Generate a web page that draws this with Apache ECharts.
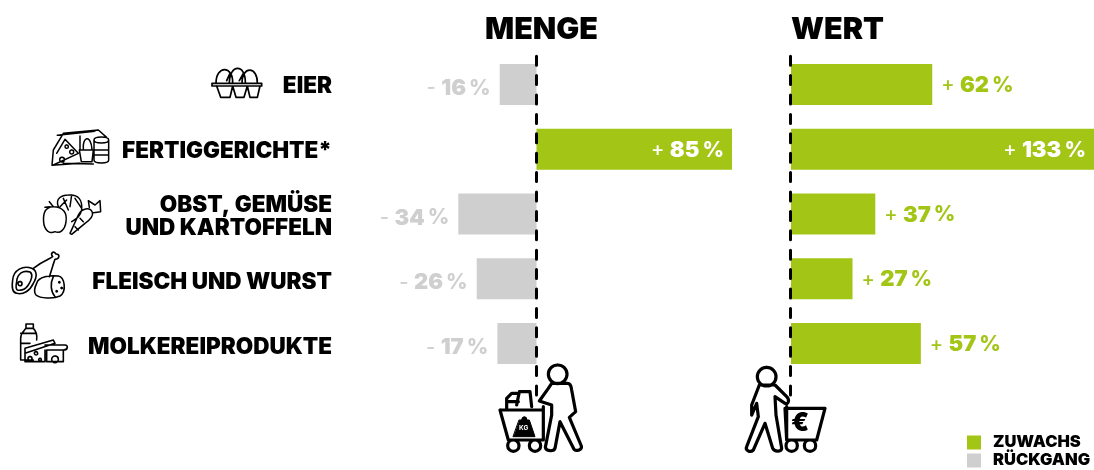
<!DOCTYPE html>
<html><head><meta charset="utf-8">
<style>html,body{margin:0;padding:0;background:#fff}#c{width:1094px;height:470px}</style>
<script src="https://cdn.jsdelivr.net/npm/echarts@6/dist/echarts.min.js"></script>
</head><body><div id="c"></div>
<script>
const categories = ['EIER','FERTIGGERICHTE*','OBST, GEMÜSE\nUND KARTOFFELN','FLEISCH UND WURST','MOLKEREIPRODUKTE'];
const mengeZuwachs = [null,85,null,null,null];
const mengeRueckgang = [-16,null,-34,-26,-17];
const wertZuwachs = [62,133,37,27,57];
const titles = ['MENGE','WERT'];
const legendNames = ['ZUWACHS','RÜCKGANG'];

const GREEN='#a2c516', GREY='#cfcfcf', FONT='Inter, "Open Sans", sans-serif';
const PX=2.3, Z1=536.5, Z2=791, TOP=52, BAND=64.8;

function rich(color){return {
  s:{color,fontFamily:FONT,fontSize:20,fontWeight:500},
  n:{color,fontFamily:FONT,fontSize:22,fontWeight:900},
  p:{color,fontFamily:FONT,fontSize:21,fontWeight:800}
};}
function fmt(p){const v=p.value; if(v==null) return '';
  return `{s|${v<0?'-':'+'} }{n|${Math.abs(v)}}{p|\u2009%}`;}
function lab(position,color,distance,dy){return {show:true,position,distance,offset:[0,dy],formatter:fmt,rich:rich(color)};}
function toData(arr,insideFrom){return arr.map(v=>{
  if(v==null) return {value:null};
  if(v>=insideFrom) return {value:v,label:lab('insideRight','#fff',8,1)};
  return {value:v};
});}

let shapeId=0;
function ic(d,ox,oy,lw,fill){
  const name='iconShape'+(shapeId++);
  echarts.graphic.registerShape(name,echarts.graphic.extendPath(d,{}));
  return {type:name,silent:true,x:ox,y:oy,scaleX:1/3,scaleY:1/3,z:20,
    style:{fill:fill||'none',stroke:'#000',lineWidth:lw*3,lineJoin:'round',lineCap:'round'}};
}

const eggs='M648 100C648 45 700 45 698 100M688 100C688 40 738 40 736 100M726 100C726 45 774 50 772 100M690 70L680 92M730 70L718 92M636 100H785V108H636ZM650 108L662 142H690L698 108M698 108L708 142H732L742 108M742 108L750 142H772L780 108';
const meal='M190 250L295 240L320 262M190 250L160 300L156 346L240 340M172 256L285 244M160 345L235 310L195 268L170 310M186 322a7 7 0 1 0 .1 0M215 300a6 6 0 1 0 .1 0M200 285a5 5 0 1 0 .1 0M240 258V300M238 300H280L276 335H244ZM250 298C246 262 272 250 276 298M282 270C282 258 326 258 326 270V330C326 342 282 342 282 330ZM282 270C282 282 326 282 326 270M284 300H324M284 315H324M190 340L280 342';
const veg='M160 470C130 470 128 500 132 525C140 550 155 550 165 545C180 552 195 540 198 515C202 490 190 470 160 470ZM160 470L148 455M175 470C165 445 185 435 205 435C235 432 248 450 245 480C240 500 230 505 215 515M190 445L205 480M215 435L210 470M225 445L245 475M200 450L180 470M210 550L235 495C245 475 270 470 277 487C280 497 270 510 255 520L215 553ZM268 472L265 452L285 465L300 452L302 485L280 488M240 505L250 515M225 530L235 540M150 470L135 472';
const meat='M38 690C40 660 70 645 95 655C112 662 112 680 100 700C90 722 70 735 50 730C38 728 35 710 38 690ZM50 695C52 670 70 660 90 666C100 672 95 690 85 705C75 720 62 722 52 720C46 716 48 705 50 695ZM60 695a6 6 0 1 0 .1 0M100 655C120 640 140 630 150 625L158 620C150 610 160 600 168 612C182 612 178 628 165 628C160 640 155 660 148 680M110 700C115 680 150 675 175 678C195 682 200 725 180 738C160 748 120 745 108 735C100 725 105 710 110 700ZM160 680C150 700 152 725 165 740M178 695a2 2 0 1 0 .1 0M185 712a2 2 0 1 0 .1 0M170 722a2 2 0 1 0 .1 0';
const dairy='M78 822H100V835H78ZM78 835C70 845 62 850 62 865V930H100M100 835C110 845 112 855 110 870M62 880H90M62 850H108M75 895L160 870L165 880L75 910ZM75 910V935H135V900M90 920a6 6 0 1 0 .1 0M108 905a5 5 0 1 0 .1 0M120 925a4 4 0 1 0 .1 0M135 885H195C205 885 205 900 190 900V935H140V900H195M165 918a10 10 0 1 0 .1 0';
const kgPerson='M233 75a28 28 0 1 0 .1 0M205 145L215 130H262C270 130 274 138 275 150L287 215L268 232L304 318C307 330 290 335 282 328L240 245L225 325C222 335 198 335 196 322L215 225V195L178 183M178 183L205 145M60 210H190V300H85ZM190 200L190 300M85 300L60 210M100 300a17 17 0 1 0 .1 34a17 17 0 1 0 -.1 -34M165 300a17 17 0 1 0 .1 34a17 17 0 1 0 -.1 -34M80 205V175L95 160H110M110 195L118 155H150L155 200M85 185H115';
const weight='M118 240H148L165 290H100ZM125 240a8 10 0 1 1 16 0';
const euroPerson='M860 82a28 28 0 1 0 .1 0M838 135H885L920 170C930 180 925 195 915 190L885 170L888 225L905 325C905 335 885 338 878 325L855 250L820 330C810 340 795 330 800 320L835 230L830 190L815 225V195ZM915 205H1035L1010 300H920ZM920 200V300M935 300a17 17 0 1 0 .1 34a17 17 0 1 0 -.1 -34M990 300a17 17 0 1 0 .1 34a17 17 0 1 0 -.1 -34';

const option={
  animation:false,
  backgroundColor:'#fff',
  title:[
    {text:titles[0],left:480,top:9,textStyle:{fontFamily:FONT,fontSize:30.5,fontWeight:900,color:'#000'}},
    {text:titles[1],left:786,top:9,textStyle:{fontFamily:FONT,fontSize:30.5,fontWeight:900,color:'#000'}}
  ],
  legend:{data:[legendNames[0],legendNames[1]],orient:'vertical',left:967,top:434,height:60,width:130,itemWidth:14,itemHeight:14,itemGap:1,padding:0,
    icon:'rect',textStyle:{fontFamily:FONT,fontSize:16.5,fontWeight:900,color:'#000',lineHeight:14,padding:[0,0,0,7]},selectedMode:false},
  grid:[
    {left:Z1-60*PX,top:TOP,width:160*PX,height:5*BAND},
    {left:Z2,top:TOP,width:133*PX,height:5*BAND},
    {left:Z1,top:TOP,width:10,height:343},
    {left:Z2-1,top:TOP,width:10,height:343},
    {left:Z1-60*PX,top:53.8,width:160*PX,height:5*65.2}
  ],
  xAxis:[
    {gridIndex:0,type:'value',min:-60,max:100,show:false},
    {gridIndex:1,type:'value',min:0,max:133,show:false},
    {gridIndex:2,type:'value',min:0,max:1,show:false},
    {gridIndex:3,type:'value',min:0,max:1,show:false},
    {gridIndex:4,type:'value',min:0,max:1,show:false}
  ],
  yAxis:[
    {gridIndex:0,type:'category',inverse:true,data:categories,axisLine:{show:false},axisTick:{show:false},axisLabel:{show:false}},
    {gridIndex:1,type:'category',inverse:true,data:categories,axisLine:{show:false},axisTick:{show:false},axisLabel:{show:false}},
    ...[2,3].map(g=>({gridIndex:g,type:'value',min:0,max:1,splitLine:{show:false},axisTick:{show:false},axisLabel:{show:false},
      z:10,axisLine:{show:true,onZero:false,lineStyle:{color:'#000',width:3,type:[9,10.4]}}})),
    {gridIndex:4,type:'category',inverse:true,data:categories,position:'left',
      axisLine:{show:false},axisTick:{show:false},
      axisLabel:{margin:Z1-60*PX-332,align:'right',fontFamily:FONT,fontSize:22.5,fontWeight:900,color:'#000',lineHeight:23}}
  ],
  series:[
    {name:legendNames[0],type:'bar',xAxisIndex:0,yAxisIndex:0,barWidth:41,barGap:'-100%',data:toData(mengeZuwachs,0),
      itemStyle:{color:GREEN},label:lab('right',GREEN,9,1)},
    {name:legendNames[1],type:'bar',xAxisIndex:0,yAxisIndex:0,barWidth:41,barGap:'-100%',data:toData(mengeRueckgang,Infinity),
      itemStyle:{color:GREY},label:lab('left',GREY,9,4)},
    {name:legendNames[0],type:'bar',xAxisIndex:1,yAxisIndex:1,barWidth:41,data:toData(wertZuwachs,100),
      itemStyle:{color:GREEN},label:lab('right',GREEN,9,1)}
  ],
  graphic:{elements:[
    ic(eggs,0,50,1.7),ic(meal,0,50,1.5),ic(veg,0,50,1.5),ic(meat,0,50,1.6),ic(dairy,0,50,1.6),
    ic(kgPerson,480,340,3.2,'#fff'),ic(weight,480,340,1,'#000'),
    ic(euroPerson,480,340,3.2,'#fff'),
    {type:'text',silent:true,z:21,x:519,y:425,style:{text:'KG',fill:'#fff',font:'700 6.5px '+FONT}},
    {type:'text',silent:true,z:21,x:791,y:410,style:{text:'€',fill:'#000',font:'900 26px '+FONT}}
  ]}
};
const chart=echarts.init(document.getElementById('c'),null,{renderer:'canvas'});
chart.setOption(option);
</script></body></html>
